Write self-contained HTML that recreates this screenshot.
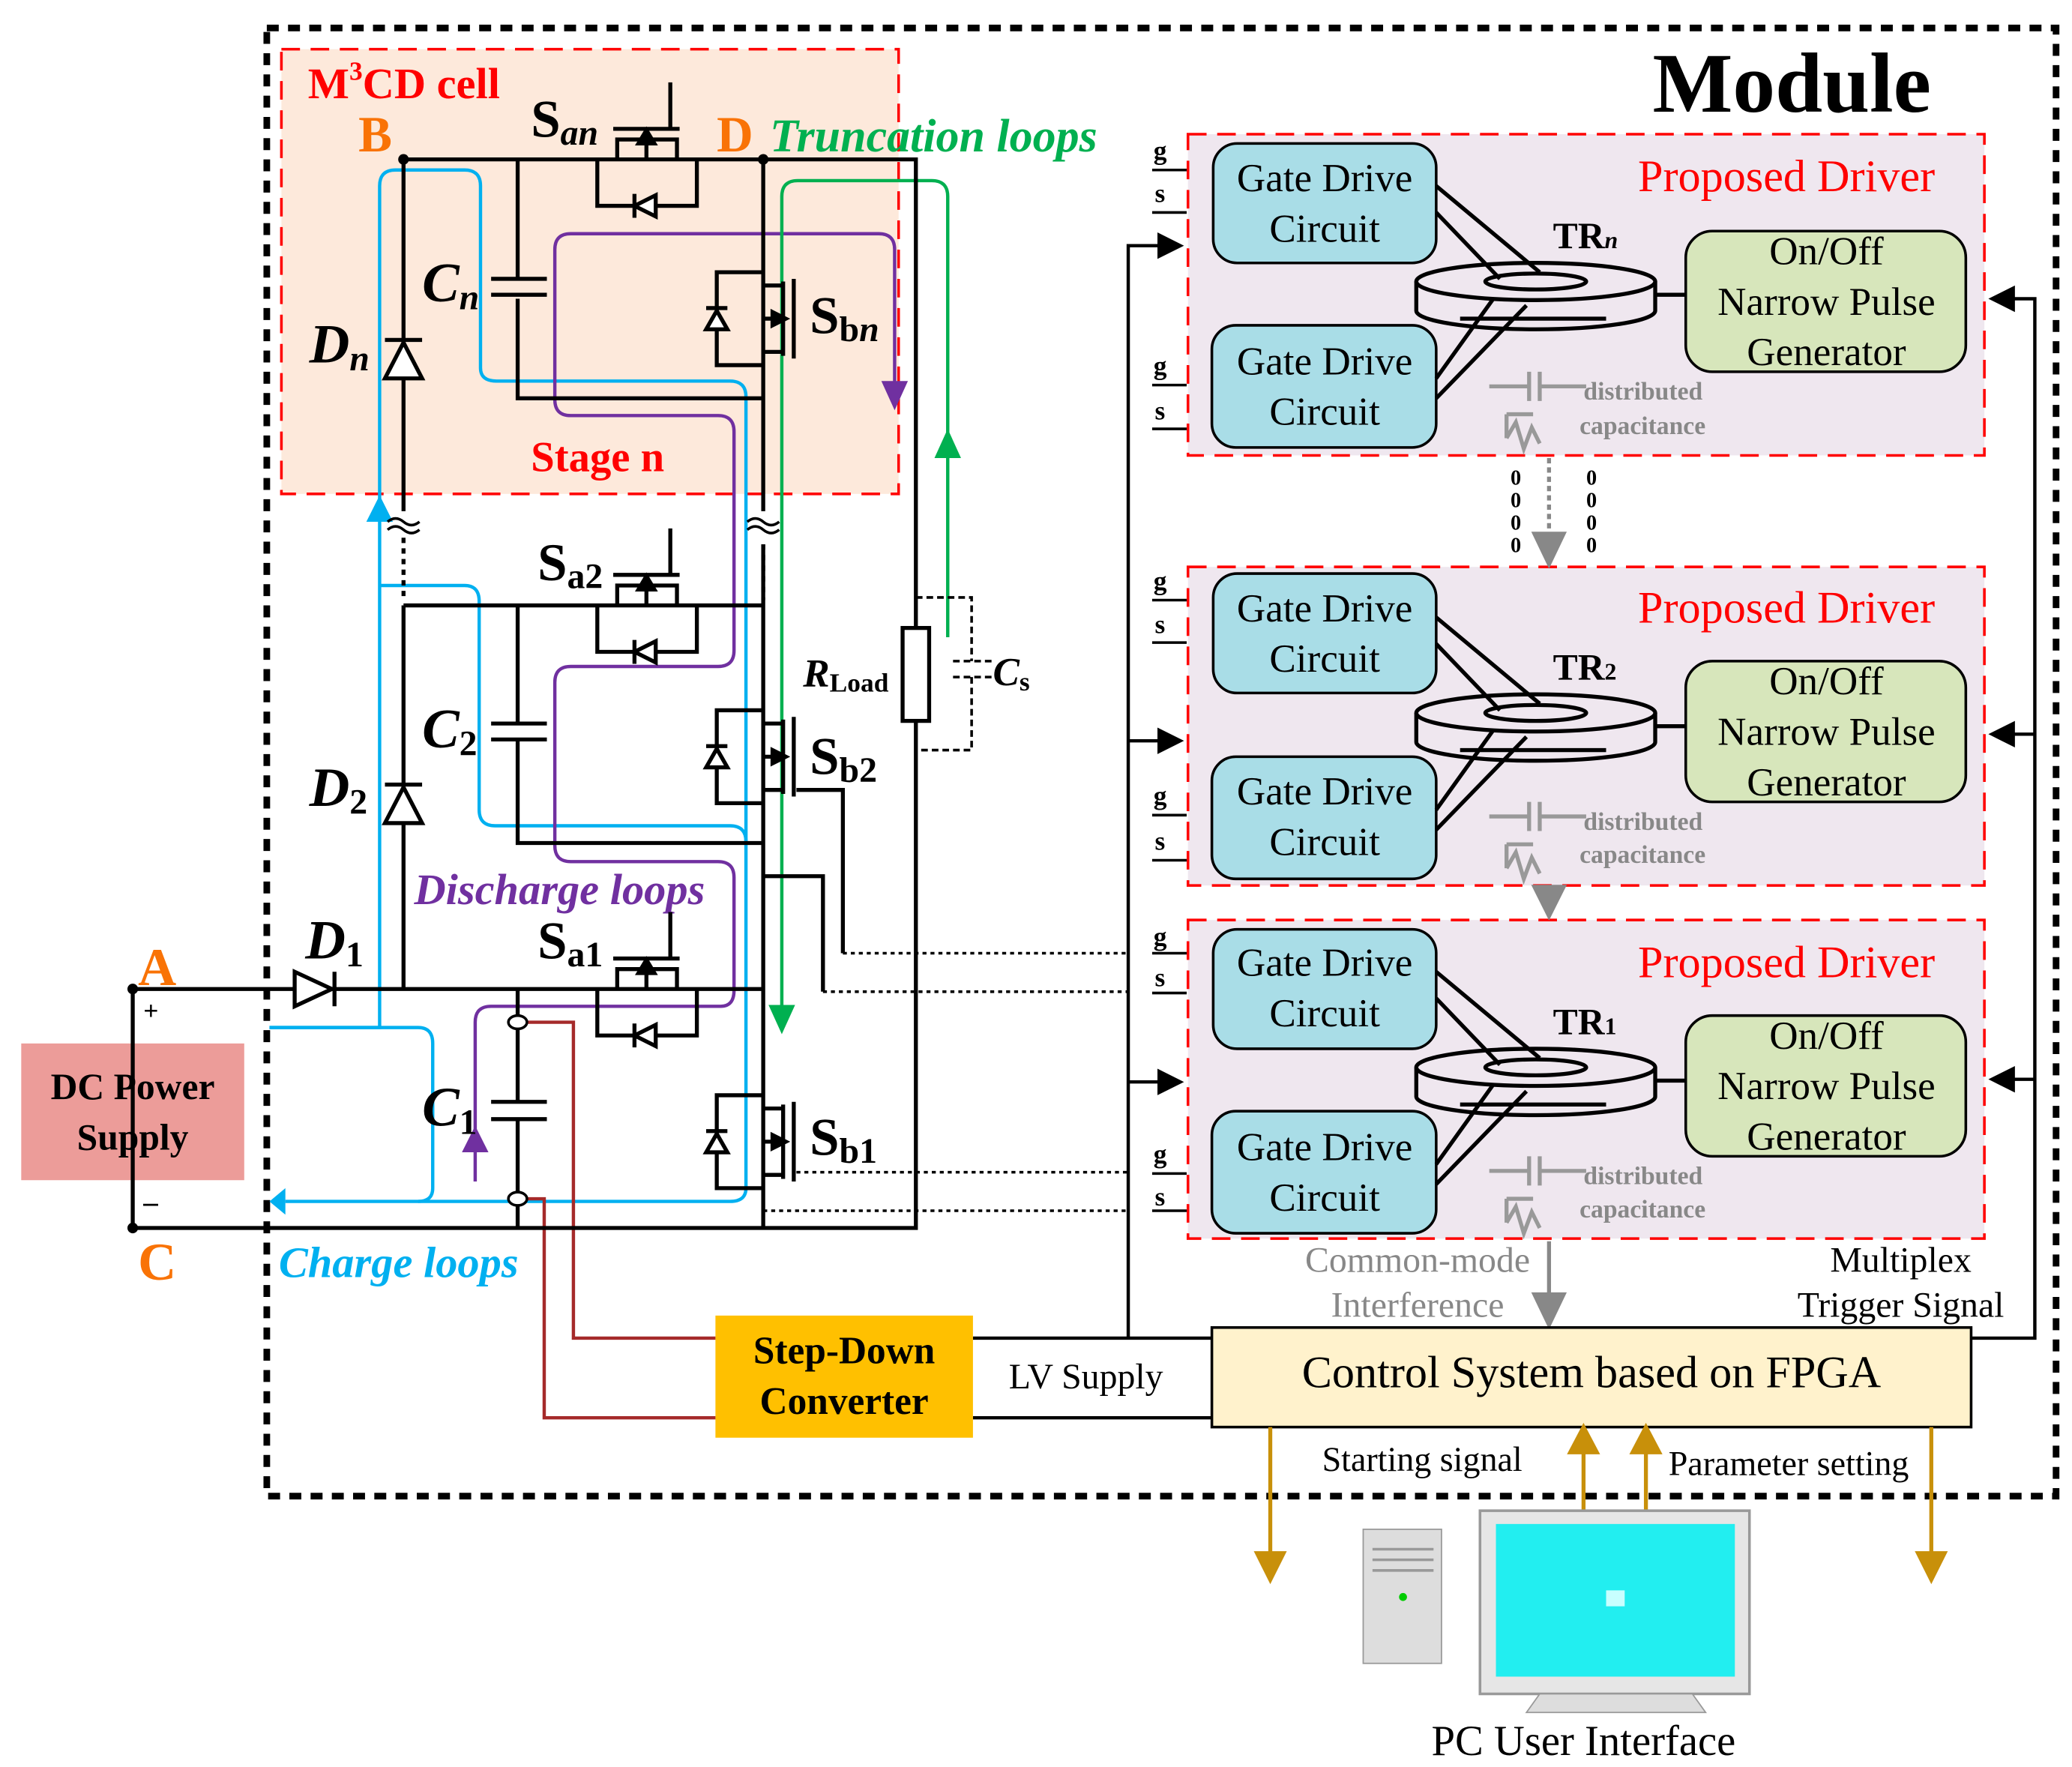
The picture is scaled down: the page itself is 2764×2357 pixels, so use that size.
<!DOCTYPE html>
<html><head><meta charset="utf-8"><style>html,body{margin:0;padding:0;background:#fff}svg{display:block}svg text{font-family:"Liberation Serif","Times New Roman",serif}</style></head>
<body>
<svg width="2764" height="2357" viewBox="0 0 1561 1331" xmlns="http://www.w3.org/2000/svg">
<rect x="201" y="21" width="1348" height="1106" fill="none" stroke="#000" stroke-width="5" stroke-dasharray="9,7"/>
<text x="1245" y="84" font-size="64" font-weight="bold">Module</text>
<rect x="212" y="37" width="465" height="335" fill="#fde9db" stroke="#f00" stroke-width="2" stroke-dasharray="14,8"/>
<text x="232" y="74" font-size="33" font-weight="bold" fill="#f00">M<tspan font-size="20" dy="-14">3</tspan><tspan dy="14">CD cell</tspan></text>
<text x="270" y="114" font-size="38" font-weight="bold" fill="#f97306">B</text>
<text x="540" y="114" font-size="38" font-weight="bold" fill="#f97306">D</text>
<text x="580" y="114" font-size="35" font-weight="bold" font-style="italic" fill="#00b050">Truncation loops</text>
<text x="400" y="355" font-size="32" font-weight="bold" fill="#f00">Stage n</text>
<text x="104" y="742" font-size="40" font-weight="bold" fill="#f97306">A</text>
<text x="104" y="964" font-size="40" font-weight="bold" fill="#f97306">C</text>

<rect x="895" y="101" width="600" height="242" fill="#efe7ef" stroke="#f00" stroke-width="2" stroke-dasharray="14,8"/>
<rect x="895" y="427" width="600" height="240" fill="#efe7ef" stroke="#f00" stroke-width="2" stroke-dasharray="14,8"/>
<rect x="895" y="693" width="600" height="240" fill="#efe7ef" stroke="#f00" stroke-width="2" stroke-dasharray="14,8"/>

<g font-size="34" fill="#f00"><text x="1234" y="144">Proposed Driver</text><text x="1234" y="469">Proposed Driver</text><text x="1234" y="736">Proposed Driver</text></g>

<g stroke="#000" stroke-width="2" fill="#a9dde7">
<rect x="914" y="108" width="168" height="90" rx="18"/><rect x="913" y="245" width="169" height="92" rx="18"/>
<rect x="914" y="432" width="168" height="90" rx="18"/><rect x="913" y="570" width="169" height="92" rx="18"/>
<rect x="914" y="700" width="168" height="90" rx="18"/><rect x="913" y="837" width="169" height="92" rx="18"/>
</g>
<g font-size="30" text-anchor="middle">
<text x="998" y="144">Gate Drive</text><text x="998" y="182">Circuit</text>
<text x="998" y="282">Gate Drive</text><text x="998" y="320">Circuit</text>
<text x="998" y="468">Gate Drive</text><text x="998" y="506">Circuit</text>
<text x="998" y="606">Gate Drive</text><text x="998" y="644">Circuit</text>
<text x="998" y="735">Gate Drive</text><text x="998" y="773">Circuit</text>
<text x="998" y="874">Gate Drive</text><text x="998" y="912">Circuit</text>
</g>
<g stroke="#000" stroke-width="2" fill="#d7e6bb">
<rect x="1270" y="174" width="211" height="106" rx="20"/><rect x="1270" y="498" width="211" height="106" rx="20"/><rect x="1270" y="765" width="211" height="106" rx="20"/>
</g>
<g font-size="30" text-anchor="middle">
<text x="1376" y="199">On/Off</text><text x="1376" y="237">Narrow Pulse</text><text x="1376" y="275">Generator</text>
<text x="1376" y="523">On/Off</text><text x="1376" y="561">Narrow Pulse</text><text x="1376" y="599">Generator</text>
<text x="1376" y="790">On/Off</text><text x="1376" y="828">Narrow Pulse</text><text x="1376" y="866">Generator</text>
</g>

<g id="tr" stroke="#000" stroke-width="3" fill="#efe7ef">
<path d="M1067,212 V234 A90,14 0 0 0 1247,234 V212"/>
<ellipse cx="1157" cy="212" rx="90" ry="14"/>
<ellipse cx="1157" cy="212" rx="38" ry="6"/>
<path d="M1082,140 L1160,205 M1082,160 L1130,210 M1082,300 L1150,230 M1082,285 L1125,225 M1247,222 L1270,222 M1100,240 H1210" fill="none"/>
</g>
<use href="#tr" y="325"/>
<use href="#tr" y="592"/>
<g font-size="28" font-weight="bold"><text x="1170" y="187">TR<tspan font-size="18" font-style="italic">n</tspan></text><text x="1170" y="512">TR<tspan font-size="18">2</tspan></text><text x="1170" y="779">TR<tspan font-size="18">1</tspan></text></g>

<g id="dc" fill="none" stroke="#999" stroke-width="3">
<path d="M1122,291 H1152 M1152,280 V302 M1160,280 V302 M1160,291 H1195 M1135,312 H1155 M1135,312 V330 M1135,330 L1142,318 L1148,338 L1154,322 L1160,334"/>
</g>
<use href="#dc" y="324"/><use href="#dc" y="591"/>
<g font-size="19" font-weight="bold" fill="#888"><text x="1193" y="301">distributed</text><text x="1190" y="327">capacitance</text>
<text x="1193" y="625">distributed</text><text x="1190" y="650">capacitance</text>
<text x="1193" y="892">distributed</text><text x="1190" y="917">capacitance</text></g>
<g stroke="#888" stroke-width="3" fill="#888">
<path d="M1167,345 V400" stroke-dasharray="4,3"/><path d="M1156,402 L1178,402 L1167,425z"/>
<path d="M1156,668 L1178,668 L1167,690z"/>
<path d="M1167,935 V975"/><path d="M1156,975 L1178,975 L1167,998z"/>
</g>
<g font-size="16" font-weight="bold" fill="#000"><text x="1138" y="365">0</text><text x="1138" y="382">0</text><text x="1138" y="399">0</text><text x="1138" y="416">0</text>
<text x="1195" y="365">0</text><text x="1195" y="382">0</text><text x="1195" y="399">0</text><text x="1195" y="416">0</text></g>

<g font-size="20" font-weight="bold">
<text x="869" y="120">g</text><text x="870" y="152">s</text><text x="869" y="282">g</text><text x="870" y="316">s</text>
<text x="869" y="444">g</text><text x="870" y="477">s</text><text x="869" y="606">g</text><text x="870" y="640">s</text>
<text x="869" y="712">g</text><text x="870" y="743">s</text><text x="869" y="876">g</text><text x="870" y="908">s</text>
</g>
<g stroke="#000" stroke-width="2"><path d="M868,128 H894 M868,160 H894 M868,290 H894 M868,323 H894 M868,452 H894 M868,484 H894 M868,614 H894 M868,648 H894 M868,718 H894 M868,748 H894 M868,884 H894 M868,912 H894"/></g>

<g stroke="#000" stroke-width="2.5" fill="none">
<path d="M850,1008 V185 H878"/><path d="M850,558 H878"/><path d="M850,815 H878"/>
<path d="M1485,1008 H1533 V225 H1510"/><path d="M1533,553 H1510"/><path d="M1533,813 H1510"/>
<path d="M733,1008 H913"/><path d="M733,1068 H913"/>
</g>
<g fill="#000"><path d="M872,175 L892,185 L872,195z M872,548 L892,558 L872,568z M872,805 L892,815 L872,825z M1518,215 L1498,225 L1518,235z M1518,543 L1498,553 L1518,563z M1518,803 L1498,813 L1518,823z"/></g>

<rect x="913" y="1000" width="572" height="75" fill="#fff2cc" stroke="#000" stroke-width="2"/>
<text x="1199" y="1045" font-size="34" text-anchor="middle">Control System based on FPGA</text>
<rect x="539" y="991" width="194" height="92" fill="#ffc000"/>
<text x="636" y="1027" font-size="29" font-weight="bold" text-anchor="middle">Step-Down</text>
<text x="636" y="1065" font-size="29" font-weight="bold" text-anchor="middle">Converter</text>
<text x="760" y="1046" font-size="27">LV Supply</text>
<g font-size="27" fill="#888" text-anchor="middle"><text x="1068" y="958">Common-mode</text><text x="1068" y="992">Interference</text></g>
<g font-size="27" text-anchor="middle"><text x="1432" y="958">Multiplex</text><text x="1432" y="992">Trigger Signal</text></g>
<text x="996" y="1108" font-size="26">Starting signal</text>
<text x="1257" y="1111" font-size="26">Parameter setting</text>
<g stroke="#c8900a" stroke-width="3" fill="#c8900a">
<path d="M957,1075 V1172"/><path d="M947,1170 L967,1170 L957,1190z"/>
<path d="M1455,1075 V1172"/><path d="M1445,1170 L1465,1170 L1455,1190z"/>
<path d="M1193,1138 V1092"/><path d="M1183,1094 L1203,1094 L1193,1075z"/>
<path d="M1240,1138 V1092"/><path d="M1230,1094 L1250,1094 L1240,1075z"/>
</g>
<rect x="1027" y="1152" width="59" height="101" fill="#ddd" stroke="#999"/>
<path d="M1034,1167 H1080 M1034,1175 H1080 M1034,1183 H1080" stroke="#999" stroke-width="2"/>
<circle cx="1057" cy="1203" r="3" fill="#0c0"/>
<rect x="1115" y="1138" width="203" height="138" fill="#e6e6e6" stroke="#999" stroke-width="2"/>
<rect x="1127" y="1148" width="180" height="115" fill="#22eef0"/>
<rect x="1210" y="1198" width="14" height="12" fill="#c8ffff"/>
<path d="M1160,1276 L1150,1290 H1285 L1275,1276z" fill="#ddd" stroke="#999"/>
<text x="1193" y="1322" font-size="32" text-anchor="middle">PC User Interface</text>

<rect x="16" y="786" width="168" height="103" fill="#ec9c99"/>
<text x="100" y="828" font-size="28" font-weight="bold" text-anchor="middle">DC Power</text>
<text x="100" y="866" font-size="28" font-weight="bold" text-anchor="middle">Supply</text>
<text x="108" y="768" font-size="20" font-weight="bold">+</text>
<text x="108" y="913" font-size="22" font-weight="bold">–</text>

<g fill="none" stroke-width="2.5">
<path stroke="#00b0f0" d="M203,774 H286 V140 Q286,128 298,128 H350 Q362,128 362,140 V277 Q362,287 374,287 H550 Q562,287 562,299 V895 Q562,905 550,905 H215"/>
<path stroke="#00b0f0" d="M286,441 H350 Q361,441 361,453 V610 Q361,622 373,622 H550 Q562,622 562,634"/>
<path stroke="#00b0f0" d="M203,774 H315 Q326,774 326,786 V895 Q326,905 315,905"/>
<path stroke="#7030a0" d="M358,890 V770 Q358,758 370,758 H543 Q553,758 553,746 V661 Q553,649 541,649 H430 Q418,649 418,637 V514 Q418,502 430,502 H541 Q553,502 553,490 V325 Q553,313 541,313 H430 Q418,313 418,301 V188 Q418,176 430,176 H662 Q674,176 674,188 V290"/>
<path stroke="#00b050" d="M589,760 V148 Q589,136 601,136 H702 Q714,136 714,148 V480"/>
<path stroke="#a52a2a" d="M390,770 H432 V1008 H539 M390,903 H410 V1068 H539"/>
</g>
<g>
<path d="M276,393 L296,393 L286,373z" fill="#00b0f0"/>
<path d="M215,895 L215,915 L203,905z" fill="#00b0f0"/>
<path d="M664,287 L684,287 L674,309z" fill="#7030a0"/>
<path d="M348,868 L368,868 L358,848z" fill="#7030a0"/>
<path d="M579,757 L599,757 L589,779z" fill="#00b050"/>
<path d="M704,345 L724,345 L714,323z" fill="#00b050"/>
</g>
<text x="210" y="962" font-size="33" font-weight="bold" font-style="italic" fill="#00b0f0">Charge loops</text>
<text x="312" y="681" font-size="33" font-weight="bold" font-style="italic" fill="#7030a0">Discharge loops</text>

<g fill="none" stroke="#000" stroke-width="3">
<path d="M304,120 H690 V925 H100 V745 H575"/>
<path d="M304,120 V385 M304,456 V745" />
<path d="M575,120 V385 M575,410 V925"/>
<path d="M304,456 H575"/>
<path d="M390,120 V210 M390,225 V300 H575 M370,210 H412 M370,222 H412"/>
<path d="M390,456 V545 M390,557 V635 H575 M370,545 H412 M370,557 H412"/>
<path d="M390,745 V830 M390,843 V925 M370,830 H412 M370,843 H412"/>
<path d="M575,660 H620 V747"/>
<path d="M600,595 H635 V718"/>
<rect x="680" y="473" width="20" height="70" fill="#fff"/>
<path d="M690,450 H732 V498 M718,498 H748 M718,510 H748 M732,510 V565 H690" stroke-dasharray="5,3" stroke-width="2"/>
<path d="M304,405 V452 M575,410 V452" stroke-dasharray="4,4"/>
</g>
<g fill="none" stroke="#000" stroke-width="2" stroke-dasharray="3,3">
<path d="M635,718 H850 M620,747 H850 M600,883 H850 M575,912 H850"/>
</g>
<g fill="none" stroke="#000" stroke-width="2"><path d="M292,393 q6,-5 12,0 t12,0 M292,399 q6,-5 12,0 t12,0 M563,393 q6,-5 12,0 t12,0 M563,399 q6,-5 12,0 t12,0"/></g>
<g fill="#000"><circle cx="304" cy="120" r="4"/><circle cx="575" cy="120" r="4"/><circle cx="100" cy="745" r="4"/><circle cx="100" cy="925" r="4"/></g>
<g fill="#fff" stroke="#000" stroke-width="2"><ellipse cx="390" cy="770" rx="7" ry="5"/><ellipse cx="390" cy="903" rx="7" ry="5"/></g>

<g stroke="#000" stroke-width="3" fill="#fff">
<path d="M290,285 H318 L304,258z"/><path d="M290,256 H318"/>
<path d="M290,620 H318 L304,593z"/><path d="M290,591 H318"/>
<path d="M222,732 V758 L250,745z"/><path d="M252,732 V758"/>
</g>
<g id="sa" stroke="#000" stroke-width="3" fill="none">
<path d="M450,120 V155 H525 V120"/>
<path d="M465,120 V105 H510 V120 M462,97 H512 M505,97 V62"/>
<path d="M487,120 V100"/>
<path d="M478,155 L494,147 V163z M478,146 V164" fill="#fff"/>
<path d="M481,108 L487,98 L493,108z" fill="#000"/>
</g>
<use href="#sa" y="336"/><use href="#sa" y="625"/>
<g id="sb" stroke="#000" stroke-width="3" fill="none">
<path d="M575,205 H540 V275 H575"/>
<path d="M575,215 H590 M575,265 H590 M590,212 V268 M598,210 V270 M575,240 H592"/>
<path d="M532,248 H548 L540,234z M532,232 H548" fill="#fff"/>
<path d="M582,235 L592,240 L582,245z" fill="#000"/>
</g>
<use href="#sb" y="330"/><use href="#sb" y="620"/>

<g font-size="40" font-weight="bold">
<text x="400" y="103">S<tspan font-size="27" font-style="italic" dy="6">an</tspan></text>
<text x="610" y="251">S<tspan font-size="27" dy="6">b<tspan font-style="italic">n</tspan></tspan></text>
<text x="405" y="437">S<tspan font-size="27" dy="6">a2</tspan></text>
<text x="610" y="583">S<tspan font-size="27" dy="6">b2</tspan></text>
<text x="405" y="722">S<tspan font-size="27" dy="6">a1</tspan></text>
<text x="610" y="870">S<tspan font-size="27" dy="6">b1</tspan></text>
</g>
<g font-size="42" font-weight="bold" font-style="italic">
<text x="318" y="227">C<tspan font-size="27" dy="6">n</tspan></text>
<text x="318" y="563">C<tspan font-size="27" dy="6" font-style="normal">2</tspan></text>
<text x="318" y="848">C<tspan font-size="27" dy="6" font-style="normal">1</tspan></text>
<text x="233" y="273">D<tspan font-size="27" dy="6">n</tspan></text>
<text x="233" y="607">D<tspan font-size="27" dy="6" font-style="normal">2</tspan></text>
<text x="230" y="722">D<tspan font-size="27" dy="6" font-style="normal">1</tspan></text>
</g>
<text x="605" y="517" font-size="30" font-weight="bold" font-style="italic">R<tspan font-size="20" font-style="normal" dy="4">Load</tspan></text>
<text x="748" y="516" font-size="30" font-weight="bold" font-style="italic">C<tspan font-size="20" font-style="normal" dy="4">s</tspan></text>
</svg>
</body></html>
